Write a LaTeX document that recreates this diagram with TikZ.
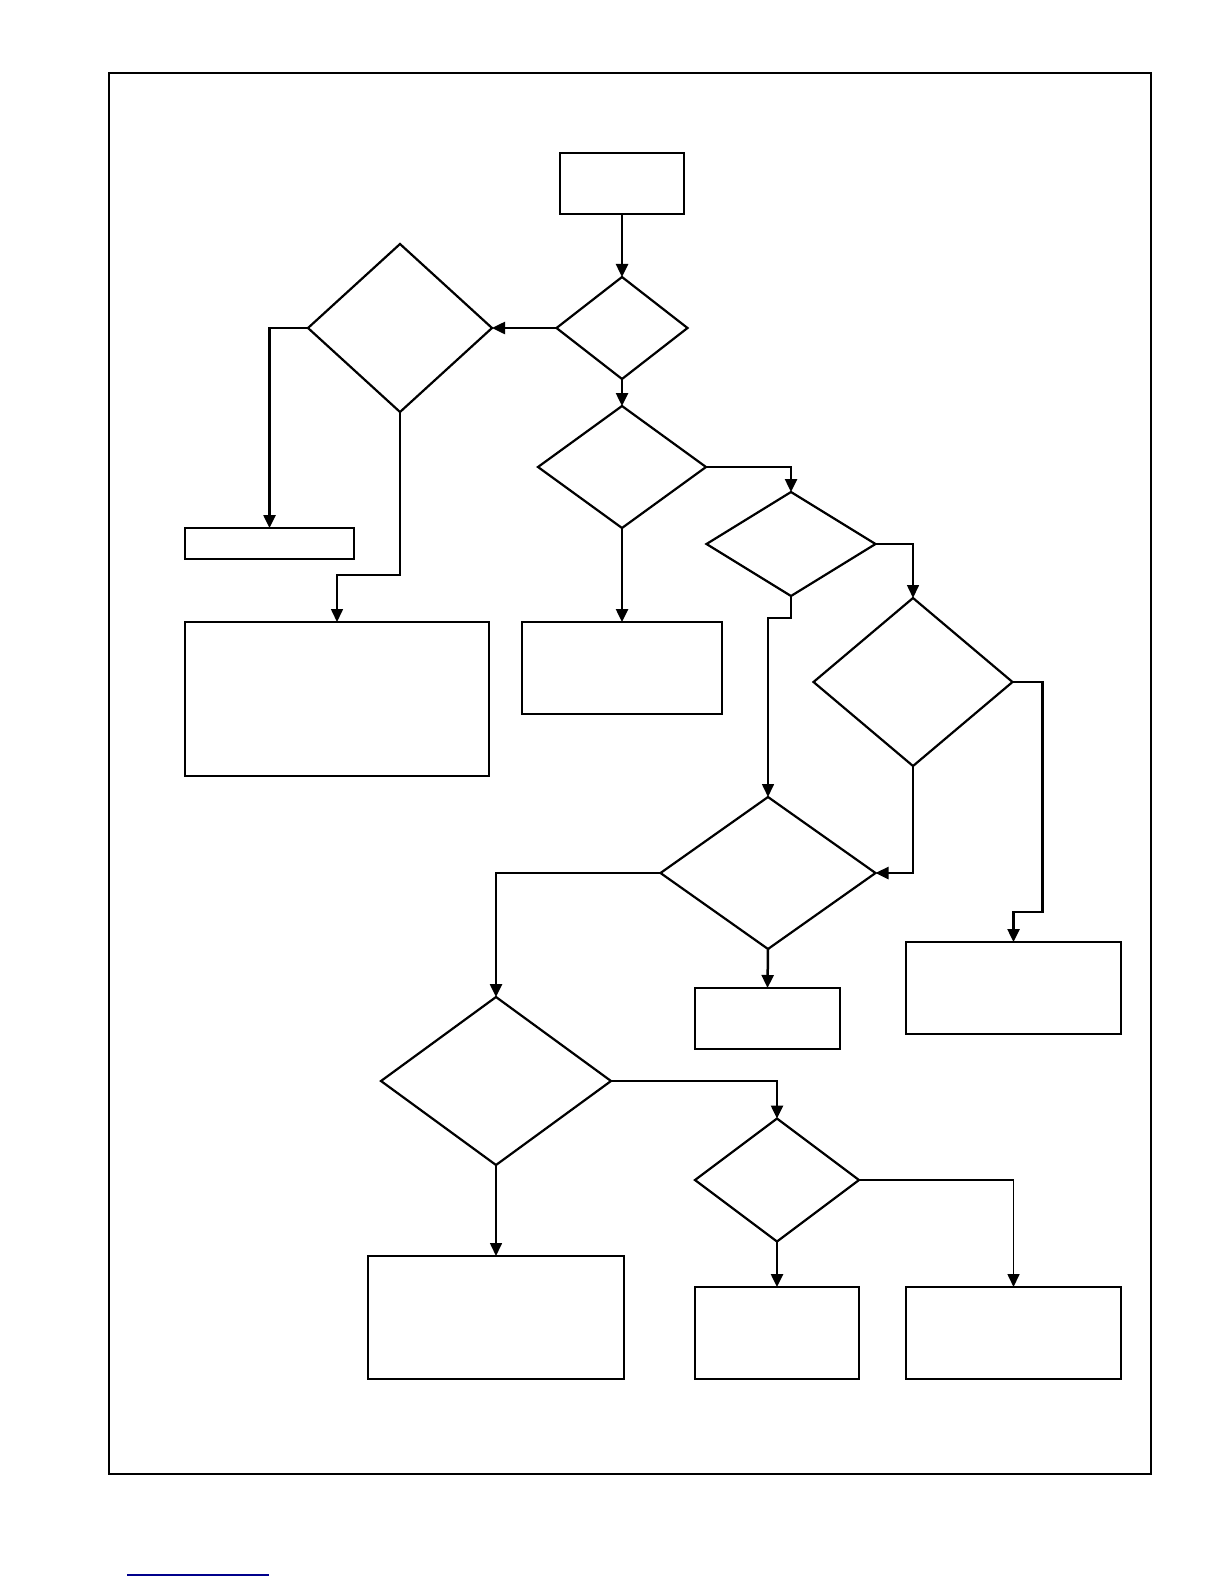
\documentclass[tikz,border=0pt]{standalone}
\usetikzlibrary{positioning,arrows.meta,shapes.geometric}

\begin{document}
\begin{tikzpicture}[x=1pt, y=-1pt,
  blk/.style={draw, rectangle, line width=2.8pt, inner sep=0pt, outer sep=0pt},
  dec/.style={draw, diamond, line width=2.2pt, inner sep=0pt, outer sep=0pt},
  arr/.style={-{Triangle[length=13pt, width=12pt]}, line width=2.5pt},
  tarr/.style={-{Triangle[length=13pt, width=12pt]}, line width=1.6pt},
  tline/.style={line width=1.6pt}]
\useasboundingbox (0,0) rectangle (1224,1584);
% outer frame
\draw[line width=1.5pt] (109,73) rectangle (1151,1474);
% blocks
\node[blk, minimum width=124pt, minimum height=61pt] (start) at (622,183.5) {};
\node[blk, minimum width=169pt, minimum height=31pt] (small) at (269.5,543.5) {};
\node[blk, minimum width=304pt, minimum height=154pt] (big) at (337,699) {};
\node[blk, minimum width=200pt, minimum height=92pt] (mid) at (622,668) {};
\node[blk, minimum width=215pt, minimum height=92pt] (rone) at (1013.5,988) {};
\node[blk, minimum width=145pt, minimum height=61pt] (mone) at (767.5,1018.5) {};
\node[blk, minimum width=256pt, minimum height=123pt] (bone) at (496,1317.5) {};
\node[blk, minimum width=164pt, minimum height=92pt] (btwo) at (777,1333) {};
\node[blk, minimum width=215pt, minimum height=92pt] (bthree) at (1013.5,1333) {};
% decisions
\node[dec, minimum width=131pt, minimum height=102pt] (qa) at (622,328) {};
\node[dec, minimum width=184pt, minimum height=168pt] (ql) at (400,328) {};
\node[dec, minimum width=168pt, minimum height=122pt] (qb) at (622,467) {};
\node[dec, minimum width=169pt, minimum height=104pt] (qc) at (791,544) {};
\node[dec, minimum width=199pt, minimum height=168pt] (qd) at (913,682) {};
\node[dec, minimum width=215pt, minimum height=152pt] (qe) at (768,873) {};
\node[dec, minimum width=230pt, minimum height=168pt] (qf) at (496,1081) {};
\node[dec, minimum width=164pt, minimum height=123pt] (qg) at (777,1180) {};
% connectors
\draw[arr] (start) -- (qa);
\draw[arr] (qa.west) -- (ql.east);
\draw[arr] (qa.south) -- (qb.north);
\draw[arr] (ql.west) -| (small.north);
\draw[tarr] (ql.south) -- ++(0,163) -| (big.north);
\draw[arr] (qb.south) -- (mid.north);
\draw[arr] (qb.east) -| (qc.north);
\draw[tarr] (qc.south) -- ++(0,22) -| (qe.north);
\draw[tarr] (qc.east) -| (qd.north);
\draw[arr] (qd.south) |- (qe.east);
\draw[arr] (qd.east) -- ++(30,0) -- ++(0,230) -| (rone.north);
\draw[arr] (qe.south) -- (mone.north);
\draw[arr] (qe.west) -| (qf.north);
\draw[tarr] (qf.south) -- (bone.north);
\draw[arr] (qf.east) -| (qg.north);
\draw[arr] (qg.south) -- (btwo.north);
\draw[tarr] (qg.east) -| (bthree.north);
% underline at foot
\draw[line width=1.5pt, blue!55!black] (127,1575) -- (269,1575);
\end{tikzpicture}
\end{document}
